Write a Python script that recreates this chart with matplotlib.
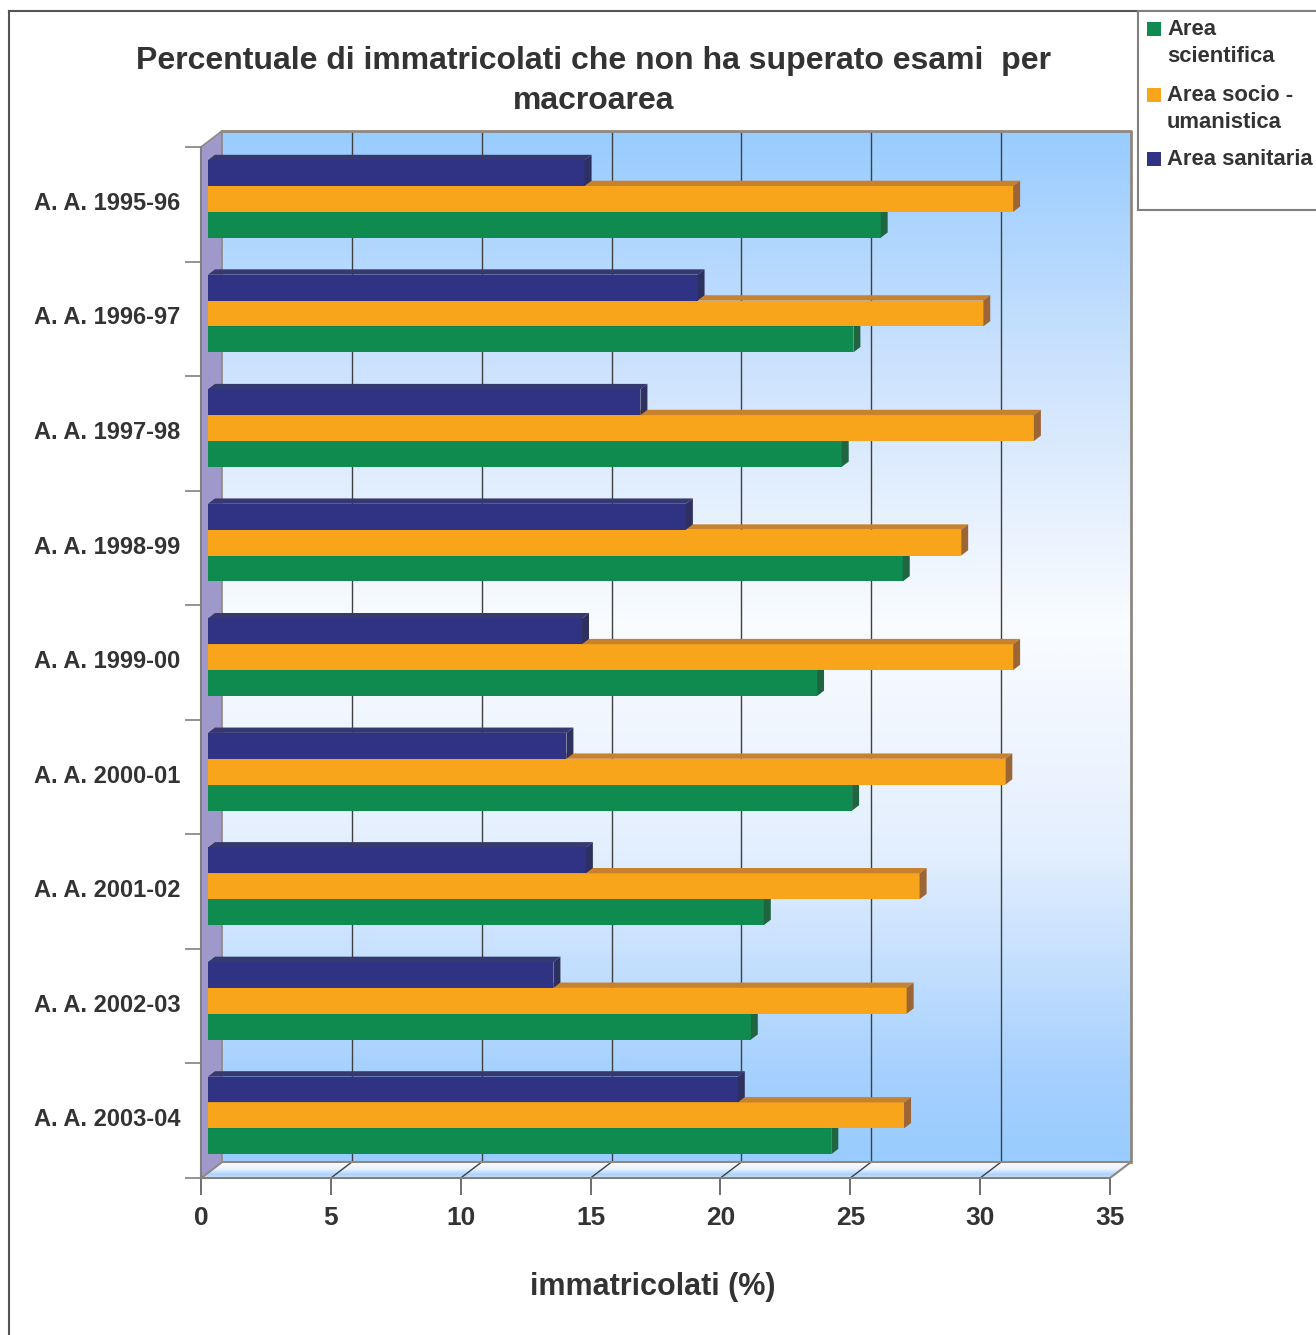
import numpy as np
import matplotlib
matplotlib.use('Agg')
import matplotlib.pyplot as plt
from matplotlib.patches import Polygon, Rectangle
from matplotlib.lines import Line2D
from matplotlib.colors import LinearSegmentedColormap

# ---------------- data ----------------
categories = ['A. A. 1995-96', 'A. A. 1996-97', 'A. A. 1997-98', 'A. A. 1998-99',
              'A. A. 1999-00', 'A. A. 2000-01', 'A. A. 2001-02', 'A. A. 2002-03',
              'A. A. 2003-04']
area_scientifica = [25.9, 24.85, 24.4, 26.75, 23.45, 24.8, 21.4, 20.9, 24.0]
area_socio_umanistica = [31.0, 29.85, 31.8, 29.0, 31.0, 30.7, 27.4, 26.9, 26.8]
area_sanitaria = [14.5, 18.85, 16.65, 18.4, 14.4, 13.8, 14.55, 13.3, 20.4]
series_labels = ['Area\nscientifica', 'Area socio -\numanistica', 'Area sanitaria']
x_ticks = [0, 5, 10, 15, 20, 25, 30, 35]
title = 'Percentuale di immatricolati che non ha superato esami  per\nmacroarea'
x_label = 'immatricolati (%)'

# ---------------- style ----------------
plt.rcParams['font.family'] = ['Liberation Sans', 'DejaVu Sans']
TXT = '#333333'
front_cols = ['#108B50', '#F8A51B', '#303284']
top_cols = ['#0E6E40', '#C8822E', '#363870']
side_cols = ['#1E6540', '#9C6535', '#2E3060']

W, H = 1316, 1335
fig = plt.figure(figsize=(W / 100, H / 100), dpi=100)
fig.patch.set_facecolor('white')


def fx(px):
    return px / W


def fy(py):
    return 1 - py / H


ax_l, ax_r, ax_t, ax_b = 190, 1140, 122, 1178
ax = fig.add_axes([fx(ax_l), fy(ax_b), (ax_r - ax_l) / W, (ax_b - ax_t) / H])
x0px, x35px = 201, 1110
xmax = x_ticks[-1]
UX = (x35px - x0px) / xmax
n = len(categories)
y0px = 147
UY = (ax_b - y0px) / n
DX = 21 / UX
DY = -16 / UY

# back wall gradient
wall_cmap = LinearSegmentedColormap.from_list(
    'wall', [(0, '#99CCFF'), (0.24, '#CFE4FD'), (0.48, '#FAFCFF'),
             (0.70, '#E3EFFE'), (0.92, '#A5D0FE'), (1, '#99CCFF')])
grad = np.linspace(0, 1, 256).reshape(-1, 1)
ax.imshow(grad, cmap=wall_cmap, extent=[DX, xmax + DX, n + DY, DY],
          aspect='auto', zorder=0, interpolation='bilinear')

# back wall gridlines
for v in x_ticks[1:-1]:
    ax.plot([v + DX, v + DX], [DY, n + DY], color='#404040', lw=1, zorder=1)
# back wall border
ax.plot([DX, xmax + DX, xmax + DX], [DY, DY, n + DY], color='#8F8780', lw=2, zorder=1)

# floor
floor = Polygon([(0, n), (xmax, n), (xmax + DX, n + DY), (DX, n + DY)],
                closed=True, facecolor='none', edgecolor='none', zorder=1)
ax.add_patch(floor)
floor_cmap = LinearSegmentedColormap.from_list(
    'floor', [(0, '#FFFFFF'), (0.45, '#E6F2FF'), (0.8, '#A8D0FC'), (1, '#DDEEFF')])
fim = ax.imshow(np.linspace(0, 1, 64).reshape(-1, 1), cmap=floor_cmap,
                extent=[0, xmax + DX, n, n + DY], aspect='auto', zorder=1,
                interpolation='bilinear')
fim.set_clip_path(floor)
for v in x_ticks[1:-1]:
    ax.plot([v, v + DX], [n, n + DY], color='#404040', lw=1, zorder=1.5)
ax.add_patch(Polygon([(0, n), (xmax, n), (xmax + DX, n + DY), (DX, n + DY)],
                     closed=True, facecolor='none', edgecolor='#8F8780', lw=1.5, zorder=1.6))

# side wall
ax.add_patch(Polygon([(0, 0), (DX, DY), (DX, n + DY), (0, n)], closed=True,
                     facecolor='#9E99CA', edgecolor='#8F8780', lw=1.2, zorder=1.7))

# bars
h = 0.226
series = [area_scientifica, area_socio_umanistica, area_sanitaria]
offsets = [h, 0.0, -h]
bx0 = DX / 3
ddx, ddy = DX / 3, DY / 3
for k, vals in enumerate(series):
    z = 3 + k
    yc = np.arange(n) + 0.5 + DY / 3 + offsets[k]
    ax.barh(yc, vals, left=bx0, height=h, color=front_cols[k], zorder=z,
            linewidth=0)
    for yy, v in zip(yc, vals):
        yt, yb = yy - h / 2, yy + h / 2
        xe = bx0 + v
        ax.add_patch(Polygon([(bx0, yt), (bx0 + ddx, yt + ddy), (xe + ddx, yt + ddy), (xe, yt)],
                             closed=True, facecolor=top_cols[k], edgecolor='none', zorder=z))
        ax.add_patch(Polygon([(xe, yt), (xe + ddx, yt + ddy), (xe + ddx, yb + ddy), (xe, yb)],
                             closed=True, facecolor=side_cols[k], edgecolor='none', zorder=z))

ax.set_xlim((ax_l - x0px) / UX, (ax_r - x0px) / UX)
ax.set_ylim(n, -(y0px - ax_t) / UY)
ax.patch.set_visible(False)

for s in ['top', 'right']:
    ax.spines[s].set_visible(False)
ax.spines['left'].set_position(('data', 0))
ax.spines['left'].set_bounds(0, n)
ax.spines['bottom'].set_bounds(0, xmax)
for s in ['left', 'bottom']:
    ax.spines[s].set_color('#808080')
    ax.spines[s].set_linewidth(1.5)
    ax.spines[s].set_zorder(10)

ax.set_xticks(x_ticks)
ax.set_xticklabels([str(t) for t in x_ticks], fontsize=19, fontweight='bold', color=TXT)
ax.tick_params(axis='x', direction='out', length=12, width=1.2, color='#555555', pad=8)
ax.set_yticks(np.arange(n + 1))
ax.set_yticklabels([])
ax.set_yticks(np.arange(n) + 0.47, minor=True)
ax.set_yticklabels(categories, minor=True, fontsize=17, fontweight='bold', color=TXT)
ax.tick_params(axis='y', which='major', direction='out', length=11.5, width=1.2, color='#808080')
ax.tick_params(axis='y', which='minor', length=0, pad=15)

# titles
fig.text(fx(594), fy(46), title, ha='center', va='top', fontsize=23,
         fontweight='bold', color=TXT, linespacing=1.42)
fig.text(fx(653), fy(1287), x_label, ha='center', va='center', fontsize=22,
         fontweight='bold', color=TXT)

# chart border
fig.add_artist(Line2D([fx(9), fx(9)], [fy(11), fy(1340)], color='#555555', lw=1.5,
                      transform=fig.transFigure))
fig.add_artist(Line2D([fx(9), fx(1320)], [fy(11), fy(11)], color='#555555', lw=1.5,
                      transform=fig.transFigure))

# legend
fig.add_artist(Rectangle((fx(1138), fy(210)), fx(1320) - fx(1138), fy(11) - fy(210),
                         transform=fig.transFigure, facecolor='white', edgecolor='#808080',
                         lw=1.5, zorder=5))
leg_base = [35, 101, 165]
for k, lab in enumerate(series_labels):
    b = leg_base[k]
    fig.add_artist(Rectangle((fx(1147), fy(b + 1)), 14 / W, 14 / H, transform=fig.transFigure,
                             facecolor=front_cols[k], edgecolor='none', zorder=6))
    for j, line in enumerate(lab.split('\n')):
        fig.text(fx(1167), fy(b + 27.5 * j), line, ha='left', va='baseline', fontsize=15.8,
                 fontweight='bold', color=TXT, zorder=7)

fig.savefig('out.png', dpi=100)
